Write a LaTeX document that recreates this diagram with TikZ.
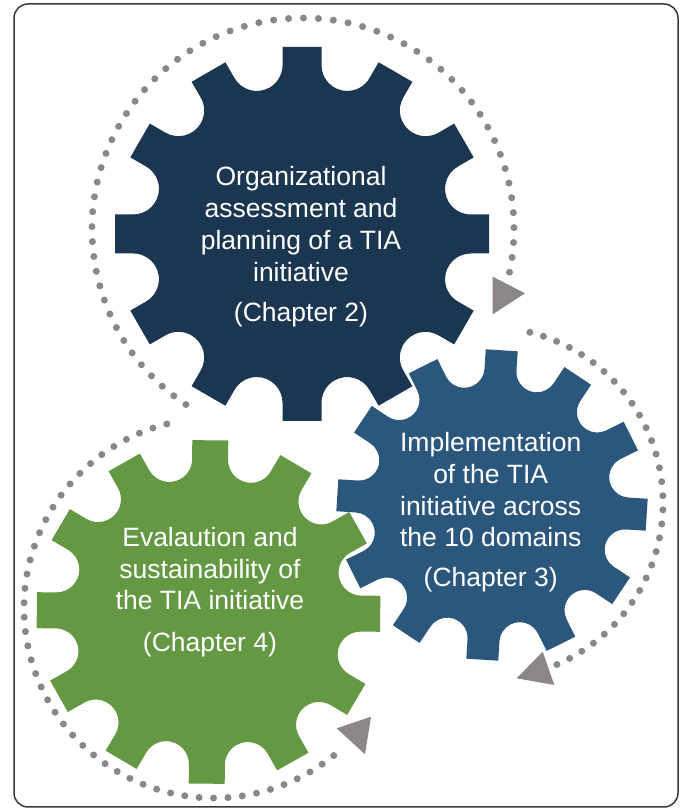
\documentclass[tikz,border=0pt]{standalone}
\usepackage{fontspec}
\setmainfont{Liberation Sans}
\definecolor{navygear}{HTML}{1B3650}
\definecolor{bluegear}{HTML}{2C577C}
\definecolor{greengear}{HTML}{659842}
\definecolor{dotgray}{HTML}{8C8786}
\definecolor{framegray}{HTML}{3A3A3A}
\newcommand\drawgear[7]{%
 \pgfmathsetmacro\gA{#5/sin(15)}%
 \pgfmathsetmacro\gT{(#6-\gA)/(1-sin(15))}%
 \pgfmathsetmacro\gRho{\gT*sin(15)}%
 \pgfmathsetmacro\gL{(\gA+\gT)*cos(15)}%
 \fill[#1] ({#2+#4*cos(90+#7)+#5*cos(180+#7)},{#3+#4*sin(90+#7)+#5*sin(180+#7)})
  \foreach \i [evaluate=\i as \ga using 90+#7-30*\i] in {0,...,11}{
    -- ({#2+#4*cos(\ga)+#5*cos(\ga-90)},{#3+#4*sin(\ga)+#5*sin(\ga-90)})
    -- ({#2+\gL*cos(\ga)+#5*cos(\ga-90)},{#3+\gL*sin(\ga)+#5*sin(\ga-90)})
    arc[start angle=\ga+90, end angle=\ga+240, radius=\gRho]
    -- ({#2+#4*cos(\ga-30)+#5*cos(\ga+60)},{#3+#4*sin(\ga-30)+#5*sin(\ga+60)})
  } -- cycle;
}
\tikzset{
  gtext/.style={text=white, align=center, inner sep=0pt, anchor=base,
    font=\fontsize{26.5}{31.8}\selectfont},
  dotarc/.style={draw=dotgray, line width=7pt, line cap=round, dash pattern=on 0pt off #1},
  tri/.style={fill=dotgray},
  frame/.style={draw=framegray, line width=1.5pt, rounded corners=14pt}
}
\begin{document}
\begin{tikzpicture}[x=1pt,y=1pt]
\useasboundingbox (0,0) rectangle (681,809);
\draw[frame] (14,805) rectangle (678,2);
% dotted cycles
\coordinate (cN) at (303,580);
\coordinate (cB) at (487,306);
\coordinate (cG) at (214,201);
\draw[dotarc=14.98pt] (cN) ++(236.3:211) arc[start angle=236.3, end angle=-11.9, radius=211];
\draw[dotarc=14.12pt] (cB) ++(75.9:176) arc[start angle=75.9, end angle=-66.6, radius=176];
\draw[dotarc=14.44pt] (cG) ++(104.4:190) arc[start angle=104.4, end angle=313.4, radius=190];
% arrow heads
\fill[tri] (492.7,532.3) -- (525,515.7) -- (492.7,494.7) -- cycle;
\fill[tri] (516.7,130.7) -- (542.7,157.3) -- (554.3,124) -- cycle;
\fill[tri] (336.7,80.7) -- (371,92.3) -- (365,54.7) -- cycle;
% gears
\drawgear{navygear}{302}{575}{187}{19.5}{149}{0}
\drawgear{bluegear}{492}{304}{155}{16}{120}{-3.6}
\drawgear{greengear}{208.5}{197}{171.7}{18}{135}{-0.6}
% texts (base anchor = baseline of the last line)
\node[gtext] (t1) at (301,487) {Organizational\\assessment and\\planning of a TIA\\initiative\\[9pt](Chapter 2)};
\node[gtext] (t2) at (490.7,222.3) {Implementation\\of the TIA\\initiative across\\the 10 domains\\[8pt](Chapter 3)};
\node[gtext] (t3) at (210,157.3) {Evalaution and\\sustainability of\\the TIA initiative\\[10pt](Chapter 4)};
\end{tikzpicture}
\end{document}
